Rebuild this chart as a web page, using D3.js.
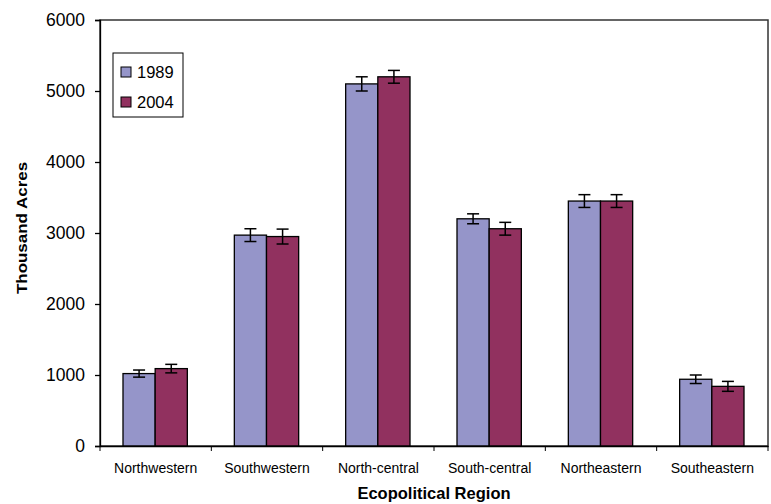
<!DOCTYPE html>
<html>
<head>
<meta charset="utf-8">
<script src="https://cdn.jsdelivr.net/npm/d3@7"></script>
<style>
  body { margin: 0; background: #fff; }
  text { font-family: Arial, "Liberation Sans", sans-serif; }
</style>
</head>
<body>
<svg id="chart" width="771" height="504"></svg>
<script>
// chart data
var regions = ['Northwestern', 'Southwestern', 'North-central', 'South-central', 'Northeastern', 'Southeastern'];
var years = ['1989', '2004'];
var values1989 = [1020, 2970, 5100, 3200, 3450, 940];
var values2004 = [1090, 2950, 5200, 3060, 3450, 840];
var err1989 = [50, 90, 100, 70, 90, 60];
var err2004 = [60, 105, 90, 90, 90, 70];
var yTicks = [0, 1000, 2000, 3000, 4000, 5000, 6000];

var colors = {'1989': '#9595C9', '2004': '#91315F'};

var margin = {top: 20, right: 3, bottom: 58, left: 100};
var width = 771 - margin.left - margin.right,
    height = 504 - margin.top - margin.bottom;

var svg = d3.select('#chart');
var g = svg.append('g').attr('transform', 'translate(' + margin.left + ',' + margin.top + ')');

var x = d3.scaleBand().domain(regions).range([0, width]).paddingInner(0).paddingOuter(0);
var x1 = d3.scaleBand().domain(years).range([23, x.bandwidth() - 24]);
var y = d3.scaleLinear().domain([0, 6000]).range([height, 0]);

var rows = regions.map(function (r, i) {
    return [
        {region: r, year: '1989', value: values1989[i], err: err1989[i]},
        {region: r, year: '2004', value: values2004[i], err: err2004[i]}
    ];
});

// plot frame
g.append('rect')
    .attr('x', 0).attr('y', 0)
    .attr('width', width).attr('height', height)
    .attr('fill', 'none')
    .attr('stroke', '#333')
    .attr('stroke-width', 1.5);

var groups = g.selectAll('.grp').data(rows)
    .enter().append('g')
    .attr('transform', function (d) { return 'translate(' + x(d[0].region) + ',0)'; });

groups.selectAll('rect').data(function (d) { return d; })
    .enter().append('rect')
    .attr('x', function (d) { return x1(d.year); })
    .attr('y', function (d) { return y(d.value); })
    .attr('width', x1.bandwidth())
    .attr('height', function (d) { return height - y(d.value); })
    .attr('fill', function (d) { return colors[d.year]; })
    .attr('stroke', '#000')
    .attr('stroke-width', 1.3);

// error bars
var eb = groups.selectAll('.eb').data(function (d) { return d; })
    .enter().append('g')
    .attr('stroke', '#000')
    .attr('stroke-width', 1.5);
eb.append('line')
    .attr('x1', function (d) { return x1(d.year) + x1.bandwidth() / 2; })
    .attr('x2', function (d) { return x1(d.year) + x1.bandwidth() / 2; })
    .attr('y1', function (d) { return y(d.value + d.err); })
    .attr('y2', function (d) { return y(d.value - d.err); });
[1, -1].forEach(function (s) {
    eb.append('line')
        .attr('x1', function (d) { return x1(d.year) + x1.bandwidth() / 2 - 6; })
        .attr('x2', function (d) { return x1(d.year) + x1.bandwidth() / 2 + 6; })
        .attr('y1', function (d) { return y(d.value + s * d.err); })
        .attr('y2', function (d) { return y(d.value + s * d.err); });
});

// y axis
var yAxis = g.append('g')
    .call(d3.axisLeft(y).tickValues(yTicks).tickSize(5).tickPadding(10).tickFormat(d3.format('d')));
yAxis.selectAll('text').attr('font-size', 17.5).attr('fill', '#000');
yAxis.selectAll('line, path').attr('stroke', '#000').attr('stroke-width', 1.3);

// x axis with ticks between categories
var xAxis = g.append('g').attr('transform', 'translate(0,' + height + ')')
    .call(d3.axisBottom(x).tickSize(0).tickPadding(17));
xAxis.selectAll('text').attr('font-size', 14).attr('fill', '#000');
xAxis.select('path').attr('stroke', '#000').attr('stroke-width', 1.3);
xAxis.selectAll('.sep').data(regions)
    .enter().append('line')
    .attr('x1', function (d) { return x(d); })
    .attr('x2', function (d) { return x(d); })
    .attr('y1', 0).attr('y2', 5)
    .attr('stroke', '#000');
xAxis.append('line')
    .attr('x1', width).attr('x2', width).attr('y1', 0).attr('y2', 5)
    .attr('stroke', '#000');

// axis titles
svg.append('text')
    .attr('x', margin.left + width / 2).attr('y', 499)
    .attr('text-anchor', 'middle')
    .attr('font-size', 16.5).attr('font-weight', 'bold')
    .text('Ecopolitical Region');
svg.append('text')
    .attr('transform', 'translate(27,228) rotate(-90) scale(1.13,1)')
    .attr('text-anchor', 'middle')
    .attr('font-size', 15).attr('font-weight', 'bold')
    .text('Thousand Acres');

// legend
var legend = svg.append('g').attr('transform', 'translate(113,53)');
legend.append('rect')
    .attr('width', 70).attr('height', 64)
    .attr('fill', '#fff').attr('stroke', '#000').attr('stroke-width', 1);
years.forEach(function (yr, i) {
    legend.append('rect')
        .attr('x', 8).attr('y', 14 + i * 30)
        .attr('width', 10).attr('height', 10)
        .attr('fill', colors[yr]).attr('stroke', '#000');
    legend.append('text')
        .attr('x', 24).attr('y', 25 + i * 30)
        .attr('font-size', 16.5)
        .text(yr);
});
</script>
</body>
</html>
